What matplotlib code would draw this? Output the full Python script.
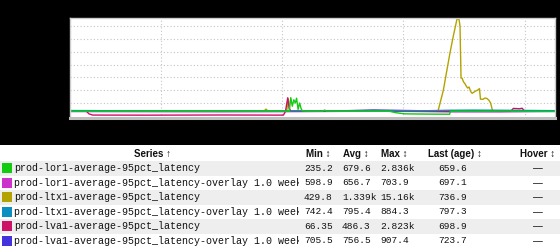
import matplotlib
matplotlib.use('Agg')
import matplotlib.pyplot as plt
from matplotlib.patches import Rectangle

# ================= data =================
# time in hours from the left edge of the window, latency in ms
lor1_t = [0, 40, 86.8, 87.4, 88.0, 88.6, 89.2, 89.7, 90.3, 90.9, 91.5, 92.0, 93.5, 100, 100.8, 101.6, 110,
          126.5, 129, 132.6, 142, 150.3, 150.6, 165, 174, 176, 192]
lor1_v = [705, 700, 700, 2836, 1500, 2500, 2000, 2750, 1000, 2000, 1100, 780, 720, 715, 900, 720, 705,
          700, 480, 300, 260, 240, 700, 700, 730, 690, 660]

lor1o_t = [0, 30, 60, 90, 110, 130, 150, 170, 192]
lor1o_v = [660, 640, 620, 650, 690, 700, 610, 600, 697]

ltx1_t = [0, 40, 76.8, 77.6, 78.4, 85.8, 86.4, 87.0, 120, 145.7, 147.8, 150.4, 151.7, 153.2, 154.0, 154.4,
          154.8, 155.2, 155.8, 156.4, 156.8, 157.4, 158.0, 158.6, 159.2, 159.9, 160.7, 161.5, 162.1,
          162.5, 163.5, 164.3, 165.1, 165.9, 166.5, 167.3, 180, 192]
ltx1_v = [730, 740, 735, 1050, 735, 740, 2650, 760, 740, 750, 4000, 9800, 12400, 15160, 15160, 14000,
          5900, 5900, 5300, 5000, 4700, 4350, 4500, 3800, 3520, 3700, 3900, 4050, 4250,
          2600, 2580, 2780, 2700, 2400, 2000, 750, 745, 737]

ltx1o_t = [0, 10, 20, 50, 80, 100, 120, 140, 150, 160, 175, 192]
ltx1o_v = [820, 800, 760, 745, 750, 760, 770, 780, 860, 884, 850, 797]

lva1_t = [0, 6.5, 7.5, 9, 30, 60, 84.5, 85.3, 86.2, 86.8, 87.5, 100, 130, 150, 170, 174.5, 175.5, 178,
          179, 180, 192]
lva1_v = [705, 700, 300, 110, 95, 120, 100, 690, 2823, 1100, 720, 700, 710, 695, 705, 700, 1150, 1100,
          1180, 720, 699]

lva1o_t = [0, 30, 60, 90, 110, 120, 140, 170, 192]
lva1o_v = [740, 760, 720, 706, 800, 907, 780, 740, 724]

series_names = [
    'prod-lor1-average-95pct_latency',
    'prod-lor1-average-95pct_latency-overlay 1.0 week',
    'prod-ltx1-average-95pct_latency',
    'prod-ltx1-average-95pct_latency-overlay 1.0 week',
    'prod-lva1-average-95pct_latency',
    'prod-lva1-average-95pct_latency-overlay 1.0 week',
]
series_colors = ['#11cc11', '#cc33cc', '#b3a300', '#0a8fc0', '#cc1166', '#4433dd']
stat_min = ['235.2', '598.9', '429.8', '742.4', '66.35', '705.5']
stat_avg = ['679.6', '656.7', '1.339k', '795.4', '486.3', '756.5']
stat_max = ['2.836k', '703.9', '15.16k', '884.3', '2.823k', '907.4']
stat_last = ['659.6', '697.1', '736.9', '797.3', '698.9', '723.7']
# =======================================

W, H = 560, 247
fig = plt.figure(figsize=(W / 100, H / 100), dpi=100, facecolor='black')

# ---- chart ----
ax = fig.add_axes([70 / W, 1 - 118 / H, 485 / W, 100 / H])
ax.set_facecolor('white')
series = [(lor1_t, lor1_v), (lor1o_t, lor1o_v), (ltx1_t, ltx1_v),
          (ltx1o_t, ltx1o_v), (lva1_t, lva1_v), (lva1o_t, lva1o_v)]
# drawing order: purple overlay at the bottom, lor1 on top
for k in [5, 1, 2, 4, 3, 0]:
    t, v = series[k]
    ax.plot(t, v, color=series_colors[k], linewidth=1.0)
ax.set_xlim(0, 192)
ax.set_ylim(-350, 15320)
ax.set_yticks(range(2000, 15000, 2000))
ax.set_xticks([36, 84, 132, 180])
ax.grid(True, color='#c4c4c4', linestyle=(0, (1, 2)), linewidth=0.8)
ax.set_axisbelow(True)
ax.tick_params(length=0, labelleft=False, labelbottom=False)
for s in ax.spines.values():
    s.set_color('#cccccc')
    s.set_linewidth(1.0)
ax.spines['bottom'].set_color('#bdbdbd')
ax.spines['bottom'].set_linewidth(2.2)

# ---- legend table ----
tab = fig.add_axes([0, 0, 1, 1])
tab.set_xlim(0, W)
tab.set_ylim(H, 0)
tab.axis('off')
tab.patch.set_visible(False)

top, hdr_h, row_h = 145, 16, 14.5
tab.add_patch(Rectangle((0, top), W, hdr_h, color='white', lw=0))
mono = 'Liberation Mono'
sans = ['Liberation Sans', 'DejaVu Sans']
hy = top + hdr_h / 2 + 0.5
hkw = dict(fontsize=7, fontweight='bold', family=sans, va='center', color='#111111')
tab.text(152, hy, 'Series \u2191', ha='center', **hkw)
tab.text(306, hy, 'Min \u2195', ha='left', **hkw)
tab.text(343, hy, 'Avg \u2195', ha='left', **hkw)
tab.text(381, hy, 'Max \u2195', ha='left', **hkw)
tab.text(455, hy, 'Last (age) \u2195', ha='center', **hkw)
tab.text(538, hy, 'Hover \u2195', ha='center', **hkw)

# names get their own axes so the long ones are clipped at the Min column
nax = fig.add_axes([0, 0, 299 / W, 1])
nax.set_xlim(0, 299)
nax.set_ylim(H, 0)
nax.axis('off')
nax.patch.set_visible(False)

nkw = dict(fontsize=7.2, family=mono, va='center', color='#111111')
vkw = dict(fontsize=6.8, family=mono, va='center', color='#111111')
for i, name in enumerate(series_names):
    y0 = top + hdr_h + i * row_h
    yc = y0 + row_h / 2
    tab.add_patch(Rectangle((0, y0), W, row_h, color='#eeeeee' if i % 2 == 0 else 'white',
                            lw=0, zorder=0))
    tab.add_patch(Rectangle((2, yc - 5), 10, 10, color=series_colors[i], lw=0, zorder=1))
    t = nax.text(14, yc, name, ha='left', **nkw)
    t.set_clip_on(True)
    tab.text(304, yc, stat_min[i], ha='left', **vkw)
    tab.text(342, yc, stat_avg[i], ha='left', **vkw)
    tab.text(380, yc, stat_max[i], ha='left', **vkw)
    tab.text(453, yc, stat_last[i], ha='center', **vkw)
    tab.text(538, yc, '\u2014', ha='center', fontsize=7, family=sans, va='center', color='#111111')

fig.savefig('out.png', dpi=100, facecolor='black')
